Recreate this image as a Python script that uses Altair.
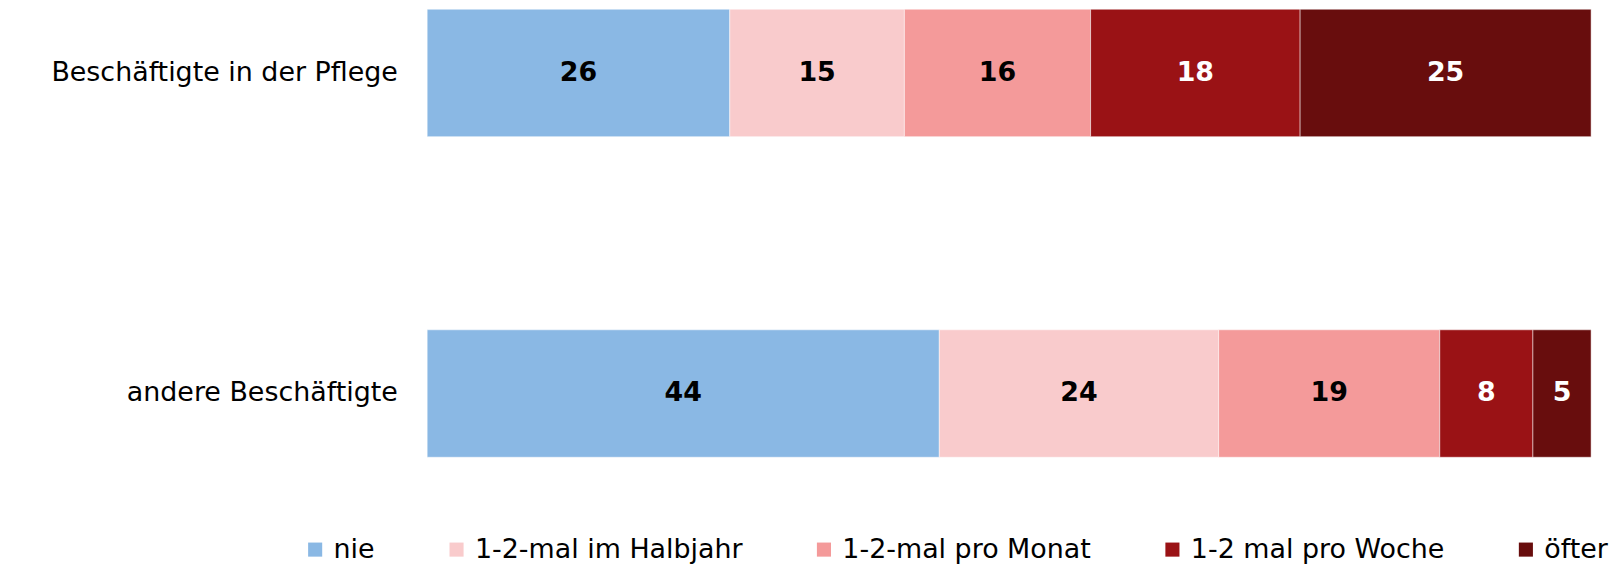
import altair as alt
import pandas as pd

groups = ["Beschäftigte in der Pflege", "andere Beschäftigte"]
categories = ["nie", "1-2-mal im Halbjahr", "1-2-mal pro Monat", "1-2 mal pro Woche", "öfter"]
pflege = [26, 15, 16, 18, 25]
andere = [44, 24, 19, 8, 5]
colors = ["#8AB8E4", "#F9CBCC", "#F49A9A", "#9A1215", "#680D0D"]
text_colors = ["black", "black", "black", "white", "white"]

rows = []
for g, vals in zip(groups, [pflege, andere]):
    for i, (c, v) in enumerate(zip(categories, vals)):
        rows.append({"group": g, "cat": c, "value": v, "idx": i, "tcol": text_colors[i]})
df = pd.DataFrame(rows)

FONT = "DejaVu Sans"
FS = 27

base = alt.Chart(df).transform_stack(
    stack="value", groupby=["group"], as_=["x0", "x1"], sort=[alt.SortField("idx", order="ascending")]
).transform_calculate(mid="(datum.x0 + datum.x1) / 2")

y_enc = alt.Y("group:N", sort=groups, title=None,
              scale=alt.Scale(paddingInner=0.6025, paddingOuter=0),
              axis=alt.Axis(domain=False, ticks=False, labelFontSize=FS, labelFont=FONT,
                            labelColor="black", labelPadding=30, labelLimit=0))

bars = base.mark_bar(stroke="white", strokeWidth=0.5).encode(
    x=alt.X("x0:Q", scale=alt.Scale(domain=[0, 100], nice=False), axis=None),
    x2="x1:Q",
    y=y_enc,
    color=alt.Color("cat:N", sort=categories,
                    scale=alt.Scale(domain=categories, range=colors),
                    legend=alt.Legend(title=None, orient="none", direction="horizontal",
                                      legendX=-126, legendY=529,
                                      symbolType="square", symbolSize=200, symbolStrokeWidth=0,
                                      labelFontSize=FS, labelFont=FONT, labelColor="black",
                                      labelOffset=5, columnPadding=68, symbolOpacity=1,
                                      labelLimit=0)),
)

labels = base.mark_text(fontSize=FS, font=FONT, fontWeight="bold").encode(
    x=alt.X("mid:Q"),
    y=alt.Y("group:N", sort=groups),
    text=alt.Text("value:Q"),
    color=alt.Color("tcol:N", scale=None),
)

chart = alt.layer(bars, labels).properties(
    width=1169, height=450,
    autosize=alt.AutoSizeParams(type="none"),
    padding={"left": 421, "top": 0, "right": 22, "bottom": 106},
).configure_view(stroke=None)

chart.save("out.html", embed_options={"renderer": "svg", "actions": False})
